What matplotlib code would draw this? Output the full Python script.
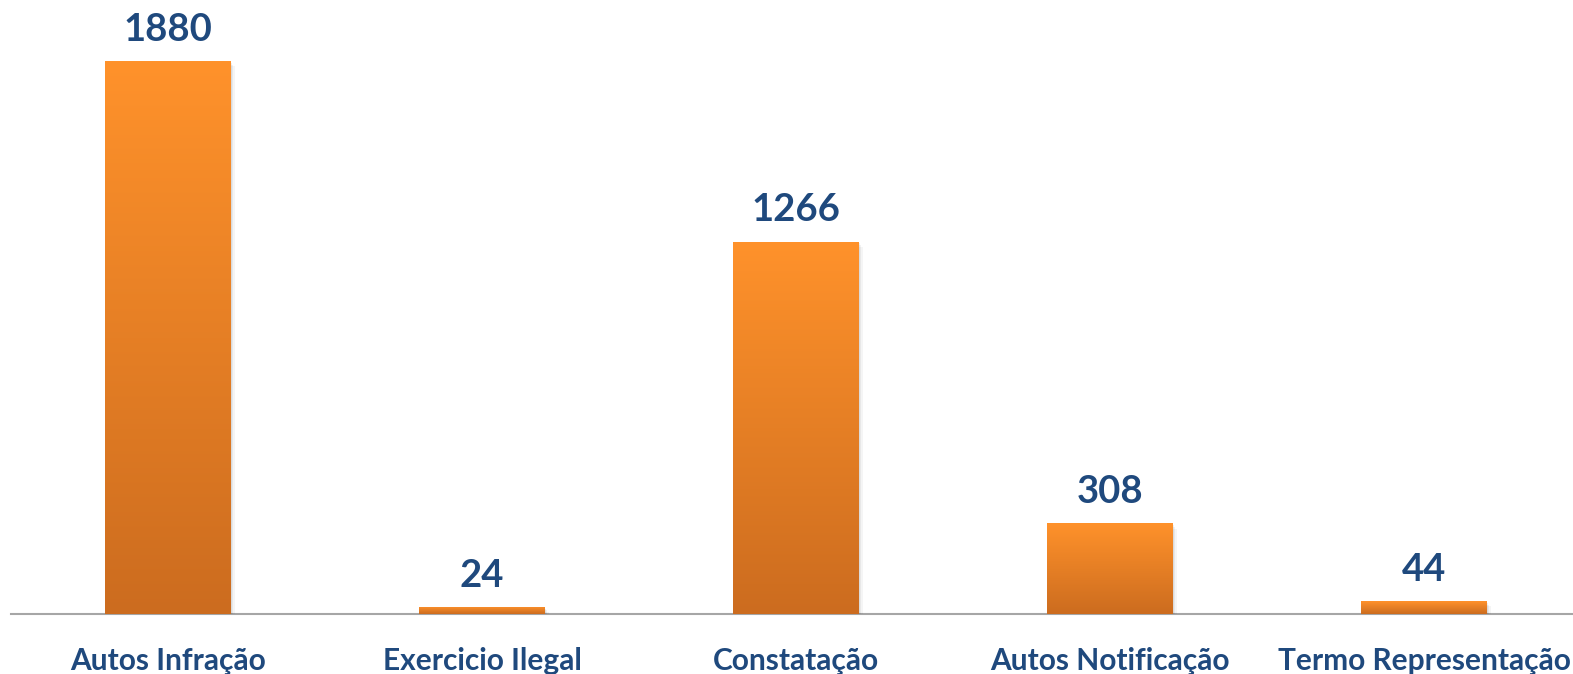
import matplotlib
matplotlib.use("Agg")
import matplotlib.pyplot as plt
import numpy as np
from matplotlib.colors import LinearSegmentedColormap

categories = ["Autos Infração", "Exercicio Ilegal", "Constatação", "Autos Notificação", "Termo Representação"]
values = [1880, 24, 1266, 308, 44]

W, H = 1573, 674
fig = plt.figure(figsize=(W / 100, H / 100), dpi=100)
left = 11 / W
bottom = (H - 614) / H
width = (314 * 5) / W
ax = fig.add_axes([left, bottom, width, 1 - bottom])
ax.set_xlim(-0.5, 4.5)
ax.set_ylim(0, 614 / (553 / 1880))

cmap = LinearSegmentedColormap.from_list("og", ["#CC6C1F", "#FF922B"])
label_color = "#1F497D"
font = "Lato"

x = np.arange(len(categories))
bars = ax.bar(x, values, width=0.4, color="none", edgecolor="none", zorder=3)
grad = np.linspace(0, 1, 256).reshape(-1, 1)
for b in bars:
    x0, y0 = b.get_x(), b.get_y()
    w, h = b.get_width(), b.get_height()
    for i, a in enumerate([0.06, 0.05, 0.04]):
        ax.add_patch(plt.Rectangle((x0 + 0.004 * (i + 1), y0 - 6 * (i + 1)), w, h, color="black", alpha=a, zorder=2, lw=0))
    im = ax.imshow(grad, extent=[x0, x0 + w, y0, y0 + h], origin="lower", cmap=cmap, aspect="auto", zorder=3)
    im.set_clip_path(b)
    ax.annotate(str(b.get_height()), (x0 + w / 2, y0 + h), xytext=(0, 14.5), textcoords="offset points",
                ha="center", va="baseline", fontsize=27.5, fontweight="bold", color=label_color, family=font)

ax.set_xticks(x)
ax.set_xticklabels(categories, fontsize=21.5, fontweight="bold", color=label_color, family=font)
ax.tick_params(axis="x", length=0, pad=24)
ax.set_yticks([])
for s in ["top", "right", "left"]:
    ax.spines[s].set_visible(False)
ax.spines["bottom"].set_color("#A6A6A6")
ax.spines["bottom"].set_linewidth(1.5)
ax.spines["bottom"].set_zorder(1)
ax.set_facecolor("white")
fig.savefig("out.png", dpi=100)
